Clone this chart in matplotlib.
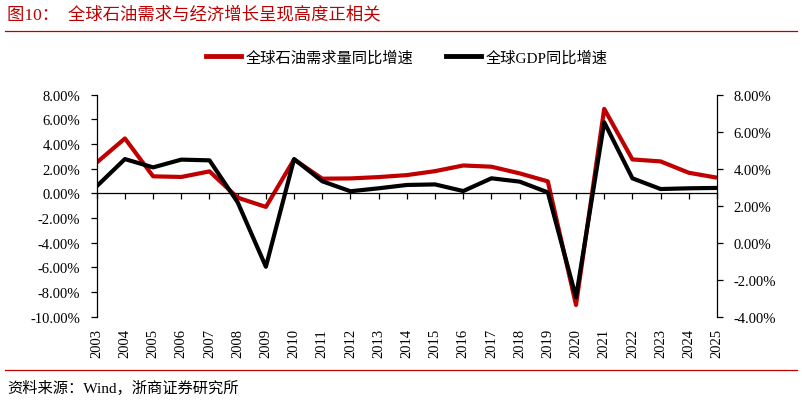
import matplotlib as mpl
import matplotlib.pyplot as plt
from matplotlib.lines import Line2D
from matplotlib.ticker import FuncFormatter

mpl.rc('font', family=['Liberation Serif', 'Noto Sans CJK SC'], size=10.5)
mpl.rc('axes', unicode_minus=False)

years = list(range(2003, 2026))
year_labels = [str(y) for y in years]

# 全球石油需求量同比增速 (%), left axis
oil_growth = [2.5, 4.45, 1.38, 1.33, 1.78, -0.35, -1.1, 2.75, 1.19, 1.21, 1.32, 1.48,
              1.80, 2.26, 2.16, 1.62, 0.97, -9.05, 6.85, 2.75, 2.59, 1.67, 1.27]
# 全球GDP同比增速 (%), right axis
gdp_growth = [3.05, 4.52, 4.07, 4.49, 4.45, 2.18, -1.3, 4.52, 3.32, 2.78, 2.94, 3.12,
              3.15, 2.79, 3.48, 3.30, 2.72, -2.95, 6.51, 3.48, 2.90, 2.94, 2.96]

left_ticks = list(range(-10, 9, 2))
right_ticks = list(range(-4, 9, 2))

red = '#C00000'
pct = FuncFormatter(lambda v, p: '%.2f%%' % v)

fig = plt.figure(figsize=(8.02, 4.02), dpi=100)
ax = fig.add_axes([0.1206, 0.2097, 0.894 - 0.1206, 0.762 - 0.2097])
ax2 = ax.twinx()

ax.plot(years, oil_growth, color=red, linewidth=3.0, solid_capstyle='butt')
ax2.plot(years, gdp_growth, color='black', linewidth=3.0, solid_capstyle='butt')

ax.set_xlim(years[0], years[-1])
ax.set_ylim(left_ticks[0], left_ticks[-1])
ax2.set_ylim(right_ticks[0], right_ticks[-1])
ax.set_yticks(left_ticks)
ax2.set_yticks(right_ticks)
ax.yaxis.set_major_formatter(pct)
ax2.yaxis.set_major_formatter(pct)

# spines
for s in ['top', 'right']:
    ax.spines[s].set_visible(False)
for s in ['top', 'bottom', 'left']:
    ax2.spines[s].set_visible(False)
ax.spines['bottom'].set_position(('data', 0))
ax.spines['left'].set_linewidth(0.9)
ax2.spines['right'].set_linewidth(0.9)
ax.spines['bottom'].set_linewidth(0.9)

ax.set_xticks(years)
ax.tick_params(axis='x', direction='out', length=4, width=0.9, labelbottom=False)
ax.tick_params(axis='y', direction='out', length=4, width=0.9, pad=8)
ax2.tick_params(axis='y', direction='out', length=4, width=0.9, pad=8)

# year labels along the bottom edge
secax = ax.secondary_xaxis('bottom')
secax.set_xticks(years)
secax.set_xticklabels(year_labels, rotation=90)
secax.tick_params(length=0, pad=8)
secax.spines['bottom'].set_visible(False)

# legend
handles = [Line2D([], [], color=red, linewidth=3.5),
           Line2D([], [], color='black', linewidth=3.5)]
fig.legend(handles, ['全球石油需求量同比增速', '全球GDP同比增速'],
           loc='center', bbox_to_anchor=(0.507, 0.855), ncol=2, frameon=False,
           fontsize=11, handlelength=2.3, handletextpad=0.3, columnspacing=2.1)

# title, rules and source
fig.text(0.009, 0.962, '图10：  全球石油需求与经济增长呈现高度正相关', color=red,
         fontsize=12.5, va='center', ha='left')
fig.add_artist(Line2D([0.006, 0.994], [1 - 31.5 / 402] * 2, color=red, linewidth=0.9))
fig.add_artist(Line2D([0.006, 0.994], [1 - 371 / 402] * 2, color=red, linewidth=0.9))
fig.text(0.009, 1 - 388 / 402, '资料来源：Wind，浙商证券研究所', color='black',
         fontsize=11, va='center', ha='left')

fig.savefig('out.png', dpi=100)
